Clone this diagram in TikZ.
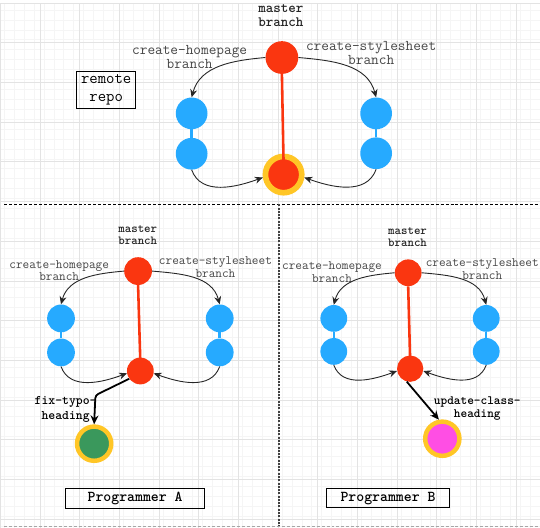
\documentclass[tikz,border=0pt]{standalone}
\usetikzlibrary{arrows.meta,calc}
\definecolor{gitred}{RGB}{250,54,16}
\definecolor{gitblue}{RGB}{38,170,255}
\definecolor{gityellow}{RGB}{255,198,38}
\definecolor{gitgreen}{RGB}{58,152,92}
\definecolor{gitpink}{RGB}{255,78,228}
\definecolor{labelgray}{RGB}{70,70,70}

\begin{document}
\begin{tikzpicture}[x=1pt,y=1pt]
			\tikzset{redc/.style={circle,inner sep=0,fill=gitred,minimum size=#1},
				bluec/.style={circle,inner sep=0,fill=gitblue,minimum size=#1},
				trunk/.style={gitred,line width=2.6pt},
				link/.style={gitblue,line width=2.5pt},
				merge/.style={-{Stealth[length=8pt,width=7pt]},line width=0.9pt,black!85},
				push/.style={-{Stealth[length=9pt,width=8pt]},line width=1.8pt,black},
				brlbl/.style 2 args={font=\ttfamily\fontsize{#1}{#2}\selectfont,text=labelgray,align=center,inner sep=0},
				mlbl/.style 2 args={font=\ttfamily\bfseries\fontsize{#1}{#2}\selectfont,text=black!85,align=center,inner sep=0},
				cadre/.style 2 args={draw=black,line width=1pt,inner sep=0,align=center,font=\ttfamily\fontsize{#1}{#2}\selectfont}}
			% background grid and separators
			\fill[white] (0,0) rectangle (540,-532);
			\draw[step=10,black!4] (-4,-3) grid (540,-532);
			\draw[step=40,black!11,shift={(-4,-3)}] (0,0) grid (544,-529);
			\useasboundingbox (0,0) rectangle (540,-532);
			\draw[black,line width=1pt,dash pattern=on 3pt off 2pt] (0,-206) -- (540,-206);
			\draw[black!75,line width=2pt,dash pattern=on 2pt off 1.3pt] (277,-206) -- (277,-532);
			\draw[black!35,line width=0.8pt,dash pattern=on 3pt off 2pt] (0,-531) -- (540,-531);
			% remote repo
			\node[cadre={16.4}{17.6},minimum width=60pt,minimum height=37pt] at (102.8,-90.5) (remote){remote\\repo};
			\node[redc=33] at (280,-58) (M0){};
			\node[redc=36.6,draw=gityellow,line width=5.7pt] at (281.7,-176) (H0){};
			\node[bluec=32] at (189,-114.3) (L1){};
			\node[bluec=32] at (189,-155) (L2){};
			\node[bluec=32] at (375,-114.3) (R1){};
			\node[bluec=32] at (375,-154.5) (R2){};
			\node[mlbl={14.4}{14.7}] at (279,-15.5) (m0lbl){master\\branch};
			\node[brlbl={15}{15}] at (187,-57.5) (l0lbl){create-homepage\\branch};
			\node[brlbl={15}{15}] at (370,-53.4) (r0lbl){create-stylesheet\\branch};
			\draw[trunk] (M0.south) -- ($(H0)!0.5!(H0.north)$);
			\draw[link] (L1) -- (L2);
			\draw[link] (R1) -- (R2);
			\draw[merge] (M0.west) to[out=185,in=75] (L1.north);
			\draw[merge] (M0.east) to[out=-5,in=105] (R1.north);
			\draw[merge] (L2.south) to[out=-70,in=200] (H0.188);
			\draw[merge] (R2.south) to[out=-110,in=-20] (H0.352);
			% Programmer A
			\node[redc=28] at (135,-273.3) (MA){};
			\node[redc=27] at (137.3,-374) (HA){};
			\node[bluec=28] at (57.3,-321) (LA1){};
			\node[bluec=28] at (57.3,-355.3) (LA2){};
			\node[bluec=28] at (217.3,-321) (RA1){};
			\node[bluec=28] at (217.3,-355.3) (RA2){};
			\node[circle,inner sep=0,fill=gitgreen,draw=gityellow,line width=4.5pt,minimum size=34.5] at (90.7,-447.3) (GA){};
			\node[mlbl={12.4}{12.6}] at (134.7,-237) (malbl){master\\branch};
			\node[brlbl={13}{12.6}] at (55.5,-273) (lalbl){create-homepage\\branch};
			\node[brlbl={13}{12.6}] at (213,-269.2) (ralbl){create-stylesheet\\branch};
			\node[mlbl={13.2}{15},text=black] at (62,-412.5) (galbl){fix-typo-\\heading};
			\coordinate (kA) at (92,-398.5);
			\draw[trunk] (MA.south) -- ($(HA)!0.6!(HA.north)$);
			\draw[link] (LA1) -- (LA2);
			\draw[link] (RA1) -- (RA2);
			\draw[merge] (MA.west) to[out=185,in=75] (LA1.north);
			\draw[merge] (MA.east) to[out=-5,in=105] (RA1.north);
			\draw[merge] (LA2.south) to[out=-70,in=200] (HA.190);
			\draw[merge] (RA2.south) to[out=-110,in=-20] (HA.350);
			\draw[push,rounded corners=3pt] (HA.215) -- (kA) -- (GA.north);
			\node[cadre={15.2}{15},minimum width=140pt,minimum height=20pt,font=\ttfamily\bfseries\fontsize{15.2}{15}\selectfont] at (132,-502.7) (progA){Programmer A};
			% Programmer B
			\node[redc=27] at (407.3,-275) (MB){};
			\node[redc=26.5] at (409.3,-371.7) (HB){};
			\node[bluec=27] at (332.3,-321) (LB1){};
			\node[bluec=27] at (332.3,-354.3) (LB2){};
			\node[bluec=27] at (486,-321) (RB1){};
			\node[bluec=27] at (486,-354.3) (RB2){};
			\node[circle,inner sep=0,fill=gitpink,draw=gityellow,line width=4.5pt,minimum size=34.5] at (441.7,-442.3) (PB){};
			\node[mlbl={12.4}{12.6}] at (406.7,-239.2) (mblbl){master\\branch};
			\node[brlbl={13}{12.6}] at (330.5,-274.5) (lblbl){create-homepage\\branch};
			\node[brlbl={13}{12.6}] at (482,-271.3) (rblbl){create-stylesheet\\branch};
			\node[mlbl={12.8}{13.3},text=black] at (477,-411.7) (pblbl){update-class-\\heading};
			\draw[trunk] (MB.south) -- ($(HB)!0.6!(HB.north)$);
			\draw[link] (LB1) -- (LB2);
			\draw[link] (RB1) -- (RB2);
			\draw[merge] (MB.west) to[out=185,in=75] (LB1.north);
			\draw[merge] (MB.east) to[out=-5,in=105] (RB1.north);
			\draw[merge] (LB2.south) to[out=-70,in=200] (HB.190);
			\draw[merge] (RB2.south) to[out=-110,in=-20] (HB.350);
			\draw[push] (HB.255) -- (PB.100);
			\node[cadre={15.2}{15},minimum width=124pt,minimum height=19pt,font=\ttfamily\bfseries\fontsize{15.2}{15}\selectfont] at (387,-502.2) (progB){Programmer B};
	\end{tikzpicture}
\end{document}
